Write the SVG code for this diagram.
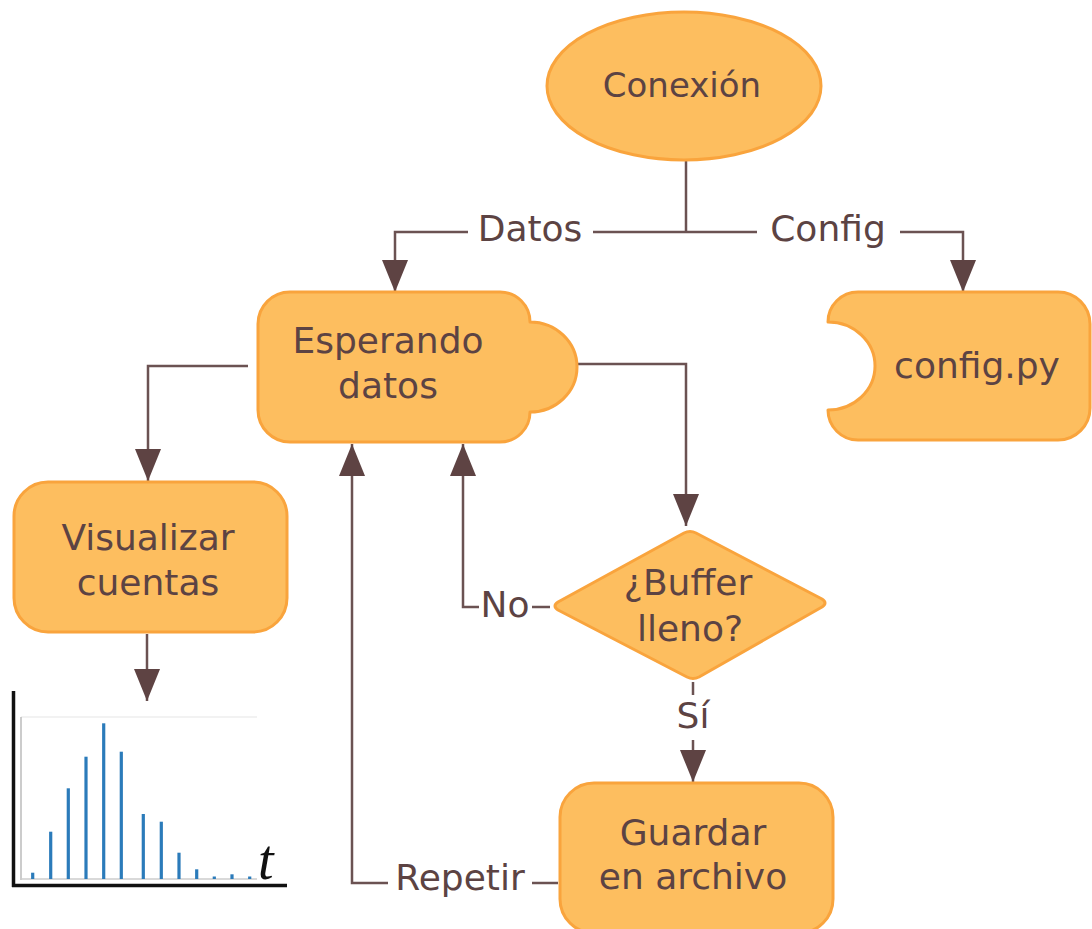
<svg xmlns="http://www.w3.org/2000/svg" width="1092" height="929" viewBox="0 0 1092 929">
<defs>
<style>
.node{fill:#fdbe5f;stroke:#f9a43d;stroke-width:3;stroke-linejoin:round}
.lbl{font-family:"DejaVu Sans",Verdana,sans-serif;font-size:36px;fill:#5c4343;text-anchor:middle}
.conn{fill:none;stroke:#6b5252;stroke-width:2.5}
.bar{stroke:#2b7bba;stroke-width:3.2}
</style>
<marker id="arr" viewBox="0 0 32 26" refX="32" refY="13" markerWidth="32" markerHeight="26" markerUnits="userSpaceOnUse" orient="auto">
<path d="M0,0 L32,13 L0,26 z" fill="#5e4343"/>
</marker>
</defs>
<rect width="1092" height="929" fill="#ffffff"/>

<g id="connectors">
<path class="conn" d="M686,160 V232"/>
<path class="conn" d="M468,232 H395 V292" marker-end="url(#arr)"/>
<path class="conn" d="M593,232 H757"/>
<path class="conn" d="M900,232 H963 V292" marker-end="url(#arr)"/>
<path class="conn" d="M248,366 H148 V481" marker-end="url(#arr)"/>
<path class="conn" d="M577,364 H686 V526" marker-end="url(#arr)"/>
<path class="conn" d="M147,634 V701" marker-end="url(#arr)"/>
<path class="conn" d="M550,607 H532"/>
<path class="conn" d="M479,607 H463 V444" marker-end="url(#arr)"/>
<path class="conn" d="M693,682 V695"/>
<path class="conn" d="M693,740 V782" marker-end="url(#arr)"/>
<path class="conn" d="M558,883 H532"/>
<path class="conn" d="M388,883 H352 V444" marker-end="url(#arr)"/>
<text class="lbl" x="530" y="241">Datos</text>
<text class="lbl" x="828" y="241">Config</text>
<text class="lbl" x="505" y="617">No</text>
<text class="lbl" x="693" y="728">Sí</text>
<text class="lbl" x="460" y="890">Repetir</text>
</g>

<g id="conexion">
<ellipse class="node" cx="684" cy="86" rx="137" ry="74"/>
<text class="lbl" x="682" y="97" style="font-size:34px">Conexión</text>
</g>

<g id="esperando">
<path class="node" d="M290,292 H500 A30,30 0 0 1 530,322 A47,45 0 0 1 530,412 A30,30 0 0 1 500,442 H290 A32,32 0 0 1 258,410 V324 A32,32 0 0 1 290,292 Z"/>
<text class="lbl" x="388" y="353">Esperando</text>
<text class="lbl" x="388" y="398">datos</text>
</g>

<g id="config">
<path class="node" d="M858,292 H1058 A32,32 0 0 1 1090,324 V408 A32,32 0 0 1 1058,440 H858 A30,30 0 0 1 828,410 A47,44 0 0 0 828,322 A30,30 0 0 1 858,292 Z"/>
<text class="lbl" x="977" y="378">config.py</text>
</g>

<g id="visualizar">
<rect class="node" x="14" y="482" width="273" height="150" rx="34"/>
<text class="lbl" x="148" y="550">Visualizar</text>
<text class="lbl" x="148" y="595">cuentas</text>
</g>

<g id="buffer">
<path class="node" d="M684,533 Q690,530 696,533 L822,599 Q828,603 822,607 L699,677 Q693,680 687,677 L558,610 Q552,606 558,602 Z"/>
<text class="lbl" x="688" y="595">¿Buffer</text>
<text class="lbl" x="690" y="641">lleno?</text>
</g>

<g id="guardar">
<rect class="node" x="560" y="783" width="273" height="150" rx="34"/>
<text class="lbl" x="693" y="845">Guardar</text>
<text class="lbl" x="693" y="889">en archivo</text>
</g>

<g id="chart">
<line x1="21" y1="717" x2="257" y2="717" stroke="#eeeeee" stroke-width="1.5"/>
<line x1="21" y1="717" x2="21" y2="880" stroke="#bbbbbb" stroke-width="1.5"/>
<line x1="21" y1="879" x2="257" y2="879" stroke="#cccccc" stroke-width="1.5"/>
<line class="bar" x1="32.7" y1="879" x2="32.7" y2="872.7"/>
<line class="bar" x1="50.7" y1="879" x2="50.7" y2="831.7"/>
<line class="bar" x1="68.3" y1="879" x2="68.3" y2="788.3"/>
<line class="bar" x1="86" y1="879" x2="86" y2="756.7"/>
<line class="bar" x1="103.7" y1="879" x2="103.7" y2="723.3"/>
<line class="bar" x1="121.3" y1="879" x2="121.3" y2="751.7"/>
<line class="bar" x1="143.3" y1="879" x2="143.3" y2="814"/>
<line class="bar" x1="161.3" y1="879" x2="161.3" y2="821.7"/>
<line class="bar" x1="179" y1="879" x2="179" y2="852.7"/>
<line class="bar" x1="196.7" y1="879" x2="196.7" y2="869.3"/>
<line class="bar" x1="214.3" y1="879" x2="214.3" y2="876.5"/>
<line class="bar" x1="232" y1="879" x2="232" y2="874.3"/>
<line class="bar" x1="249.7" y1="879" x2="249.7" y2="876.5"/>
<line x1="13.5" y1="691" x2="13.5" y2="887" stroke="#111111" stroke-width="3.5"/>
<line x1="12" y1="885.5" x2="287" y2="885.5" stroke="#111111" stroke-width="3.5"/>
<text x="258" y="879" font-family="'Liberation Serif',serif" font-style="italic" font-size="56" fill="#111111">t</text>
</g>
</svg>
